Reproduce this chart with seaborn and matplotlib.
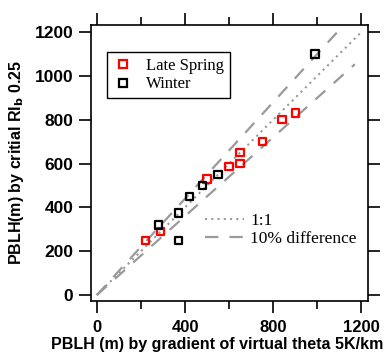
import matplotlib
matplotlib.use("Agg")
import matplotlib.pyplot as plt
import seaborn as sns
import numpy as np
import pandas as pd
from matplotlib.lines import Line2D
from matplotlib.ticker import MultipleLocator

sns.set_theme(style="white")
plt.rcParams['font.family'] = ['Liberation Sans', 'DejaVu Sans']
plt.rcParams.update({'text.color': 'black', 'axes.labelcolor': 'black',
                     'xtick.color': 'black', 'ytick.color': 'black',
                     'xtick.labelcolor': 'black', 'ytick.labelcolor': 'black'})

spring_x = [220, 290, 500, 600, 650, 650, 750, 840, 900]
spring_y = [250, 290, 530, 585, 600, 650, 700, 800, 830]
winter_x = [280, 370, 370, 420, 480, 550, 990]
winter_y = [320, 250, 375, 450, 500, 550, 1100]

one_x = [0, 1200]
upper_x = [0, 1090]
lower_x = [0, 1170]

fig = plt.figure(figsize=(3.85, 3.53), dpi=100)
ax = fig.add_axes([0.236, 0.1473, 0.720, 0.782])

gray = '#9a9a9a'
sns.lineplot(x=one_x, y=one_x, ax=ax, color=gray, linestyle=(0, (1, 2)), linewidth=1.5)
sns.lineplot(x=upper_x, y=[1.1 * v for v in upper_x], ax=ax, color=gray, linestyle=(0, (6, 5)), linewidth=1.6)
sns.lineplot(x=lower_x, y=[0.9 * v for v in lower_x], ax=ax, color=gray, linestyle=(0, (6, 5)), linewidth=1.6)

sns.scatterplot(x=spring_x, y=spring_y, ax=ax, marker='s', s=28, fc='none', ec='#ff0000', linewidth=1.6, zorder=5)
sns.scatterplot(x=winter_x, y=winter_y, ax=ax, marker='s', s=28, fc='none', ec='black', linewidth=1.6, zorder=6)

ax.set_xlim(-27, 1230)
ax.set_ylim(-27, 1232)

ax.xaxis.set_major_locator(MultipleLocator(400))
ax.xaxis.set_minor_locator(MultipleLocator(200))
ax.yaxis.set_major_locator(MultipleLocator(200))
ax.tick_params(axis='both', which='both', direction='out', top=True, right=True, bottom=True, left=True,
               color='black', labelcolor='black', width=1.2)
ax.tick_params(axis='x', which='major', length=8.5, labelsize=12, pad=5.5)
ax.tick_params(axis='x', which='minor', length=6)
ax.tick_params(axis='y', which='major', length=8.5, labelsize=12.5, pad=4)
for lab in ax.get_xticklabels() + ax.get_yticklabels():
    lab.set_fontweight('bold')
for s in ax.spines.values():
    s.set_color('black')
    s.set_linewidth(1.2)

ax.set_xlabel('PBLH (m) by gradient of virtual theta 5K/km', fontsize=11.5, fontweight='bold', color='black')
ax.xaxis.set_label_coords(0.455, -0.132)
ax.set_ylabel(r'PBLH(m) by critial RI$_\mathbf{b}$ 0.25', fontsize=11.5, fontweight='bold', labelpad=6, color='black')

h1 = [Line2D([], [], marker='s', ls='none', mfc='none', mec='#ff0000', mew=1.6, ms=6),
      Line2D([], [], marker='s', ls='none', mfc='none', mec='black', mew=1.6, ms=6)]
leg1 = ax.legend(h1, ['Late Spring', 'Winter'], loc='upper left', bbox_to_anchor=(0.058, 0.902),
                 borderaxespad=0, frameon=True, fancybox=False, edgecolor='black', framealpha=1,
                 prop={'family': 'Liberation Serif', 'size': 12}, handletextpad=0.8,
                 borderpad=0.35, labelspacing=0.15, handlelength=1.2, labelcolor='black')
leg1.get_frame().set_linewidth(1.0)
ax.add_artist(leg1)

h2 = [Line2D([], [], color=gray, ls=(0, (1, 2)), lw=1.5),
      Line2D([], [], color=gray, ls=(0, (6, 5)), lw=1.6)]
ax.legend(h2, ['1:1', '10% difference'], loc='lower right', bbox_to_anchor=(0.985, 0.17),
          borderaxespad=0, frameon=False, prop={'family': 'Liberation Serif', 'size': 12.5},
          handlelength=2.2, handletextpad=0.4, labelspacing=0.1, labelcolor='black')

fig.savefig('out.png', dpi=100)
